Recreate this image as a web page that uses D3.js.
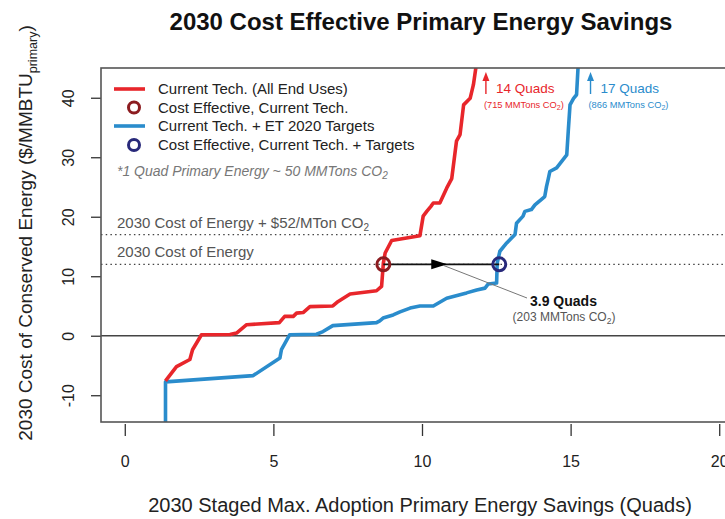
<!DOCTYPE html>
<html>
<head>
<meta charset="utf-8">
<script src="https://cdn.jsdelivr.net/npm/d3@7"></script>
<style>
  html, body { margin: 0; padding: 0; background: #fff; }
  svg { display: block; font-family: "Liberation Sans", Arial, Helvetica, sans-serif; }
</style>
</head>
<body>
<svg id="chart" width="725" height="519"></svg>
<script>
// Supply curve: cumulative savings (Quads) vs. cost of conserved energy ($/MMBTU)
const currentTechX = [1.37, 1.74, 2.19, 2.28, 2.58, 3.54, 3.76, 4.1, 5.2, 5.38, 5.67, 5.78, 6.0, 6.23, 7.0, 7.18, 7.58, 8.47, 8.64, 8.7, 8.76, 8.98, 9.93, 10.04, 10.16, 10.3, 10.38, 10.6, 10.83, 11.0, 11.16, 11.28, 11.4, 11.62, 11.73, 11.84];
const currentTechY = [-7.6, -5.2, -4.0, -2.35, 0.17, 0.2, 0.45, 1.85, 2.2, 3.25, 3.25, 3.8, 3.9, 4.9, 5.0, 5.76, 7.0, 7.56, 8.3, 12.2, 13.9, 16.0, 16.8, 20.1, 20.9, 21.75, 22.3, 22.3, 24.8, 26.4, 32.7, 33.8, 38.8, 39.9, 42.2, 46];

const targetsX = [1.37, 1.37, 4.32, 5.22, 5.27, 5.55, 6.45, 6.67, 7.0, 8.47, 8.58, 8.69, 9.03, 9.26, 9.6, 9.93, 10.38, 10.83, 11.5, 11.84, 12.12, 12.23, 12.51, 12.53, 12.62, 12.85, 13.13, 13.18, 13.4, 13.46, 13.68, 13.8, 14.13, 14.19, 14.25, 14.3, 14.53, 14.87, 14.92, 14.98, 15.1, 15.2, 15.26];
const targetsY = [-16, -7.75, -6.7, -3.75, -2.35, 0.17, 0.25, 0.7, 1.7, 2.2, 2.5, 2.97, 3.5, 4.0, 4.65, 5.0, 5.0, 6.3, 7.2, 7.7, 8.0, 8.7, 8.85, 12.2, 14.2, 15.6, 17.0, 18.9, 20.1, 20.9, 21.2, 22.0, 23.4, 25.1, 26.4, 27.6, 28.2, 30.4, 34.3, 38.8, 39.9, 40.5, 46];

const xTicks = [0, 5, 10, 15, 20];
const yTicks = [-10, 0, 10, 20, 30, 40];

const costOfEnergy = 12;          // 2030 cost of energy, $/MMBTU
const costWithCarbon = 17;        // plus $52/MTon CO2
const costEffectiveCurrent = 8.7; // Quads at cost of energy, current tech
const costEffectiveTargets = 12.6;// Quads at cost of energy, with targets
const totalCurrent = 14, totalTargets = 17;

const RED = "#e8262b", BLUE = "#2a8ccc", DARKRED = "#8c1c20", NAVY = "#28297a";

const svg = d3.select("#chart");
const plotLeft = 101, plotRight = 743, plotTop = 68, plotBottom = 422;

const x = d3.scaleLinear().domain([-0.8, 20.8]).range([plotLeft, plotRight]);
const y = d3.scaleLinear().domain([-14.5, 45]).range([plotBottom, plotTop]);

svg.append("defs").append("clipPath").attr("id", "plotClip")
  .append("rect").attr("x", plotLeft).attr("y", plotTop)
  .attr("width", plotRight - plotLeft).attr("height", plotBottom - plotTop);

// Title
svg.append("text").attr("x", 421).attr("y", 30).attr("text-anchor", "middle")
  .attr("font-size", 24).attr("font-weight", "bold").attr("fill", "#111")
  .text("2030 Cost Effective Primary Energy Savings");

// Axes
const xAxis = d3.axisBottom(x).tickValues(xTicks).tickSize(12).tickPadding(20);
const gx = svg.append("g").attr("transform", `translate(0,${plotBottom + 2})`).call(xAxis);
gx.select(".domain").remove();
gx.selectAll(".tick line").attr("stroke", "#333").attr("stroke-width", 1.3);
gx.selectAll(".tick text").attr("font-size", 16).attr("fill", "#222")
  .attr("font-family", "Liberation Sans, Arial, sans-serif");

const yAxis = d3.axisLeft(y).tickValues(yTicks).tickSize(10).tickFormat(d => String(d));
const gy = svg.append("g").attr("transform", `translate(${plotLeft},0)`).call(yAxis);
gy.select(".domain").remove();
gy.selectAll(".tick line").attr("stroke", "#333").attr("stroke-width", 1.3);
gy.selectAll(".tick text").attr("font-size", 16).attr("fill", "#222")
  .attr("font-family", "Liberation Sans, Arial, sans-serif")
  .attr("text-anchor", "middle").attr("dy", null).attr("x", null)
  .attr("transform", "translate(-33,0) rotate(-90)").attr("dominant-baseline", "central");

// Axis titles
svg.append("text").attr("x", 420).attr("y", 512).attr("text-anchor", "middle")
  .attr("font-size", 20).attr("fill", "#222")
  .text("2030 Staged Max. Adoption Primary Energy Savings (Quads)");

const yTitle = svg.append("text").attr("transform", "translate(32,233) rotate(-90)")
  .attr("text-anchor", "middle").attr("font-size", 19).attr("fill", "#222");
yTitle.append("tspan").text("2030 Cost of Conserved Energy ($/MMBTU");
yTitle.append("tspan").attr("font-size", 12.5).attr("dy", 5).text("primary");
yTitle.append("tspan").attr("dy", -5).text(")");

// Plot contents
const plot = svg.append("g").attr("clip-path", "url(#plotClip)");

// Reference cost levels
[costWithCarbon, costOfEnergy].forEach(v => {
  plot.append("line").attr("x1", plotLeft).attr("x2", plotRight)
    .attr("y1", y(v)).attr("y2", y(v))
    .attr("stroke", "#444").attr("stroke-width", 1.4).attr("stroke-dasharray", "1.5,3.2");
});
svg.append("text").attr("x", 117).attr("y", y(costWithCarbon) - 7).attr("font-size", 15).attr("fill", "#555")
  .call(t => {
    t.append("tspan").text("2030 Cost of Energy + $52/MTon CO");
    t.append("tspan").attr("font-size", 10).attr("dy", 3).text("2");
  });
svg.append("text").attr("x", 117).attr("y", y(costOfEnergy) - 7).attr("font-size", 15).attr("fill", "#555")
  .text("2030 Cost of Energy");

// Zero line
plot.append("line").attr("x1", plotLeft).attr("x2", plotRight).attr("y1", y(0)).attr("y2", y(0))
  .attr("stroke", "#444").attr("stroke-width", 1.5);

const line = d3.line().x(d => x(d[0])).y(d => y(d[1]));
const targetsData = d3.zip(targetsX, targetsY);
const currentData = d3.zip(currentTechX, currentTechY);

plot.append("path").datum(targetsData).attr("d", line).attr("fill", "none")
  .attr("stroke", BLUE).attr("stroke-width", 3.6).attr("stroke-linejoin", "round");
plot.append("path").datum(currentData).attr("d", line).attr("fill", "none")
  .attr("stroke", RED).attr("stroke-width", 3.6).attr("stroke-linejoin", "round");

// Arrow between cost-effective points
const ay = y(costOfEnergy);
plot.append("line").attr("x1", x(costEffectiveCurrent)).attr("x2", x(costEffectiveTargets))
  .attr("y1", ay).attr("y2", ay).attr("stroke", "#111").attr("stroke-width", 1.6);
const tipX = x(10.85);
plot.append("path")
  .attr("d", `M${tipX},${ay} L${tipX - 16},${ay - 5} L${tipX - 16},${ay + 5} Z`).attr("fill", "#000");

// Leader line and savings label
svg.append("line").attr("x1", tipX - 4).attr("y1", ay + 1)
  .attr("x2", 527).attr("y2", 298).attr("stroke", "#777").attr("stroke-width", 1);
svg.append("text").attr("x", 530).attr("y", 306).attr("font-size", 14).attr("font-weight", "bold")
  .attr("fill", "#111").text(`${(costEffectiveTargets - costEffectiveCurrent).toFixed(1)} Quads`);
svg.append("text").attr("x", 564).attr("y", 321).attr("text-anchor", "middle").attr("font-size", 12).attr("fill", "#555")
  .call(t => {
    t.append("tspan").text("(203 MMTons CO");
    t.append("tspan").attr("font-size", 8.5).attr("dy", 3).text("2");
    t.append("tspan").attr("dy", -3).text(")");
  });

// Cost-effective markers
[[costEffectiveCurrent, DARKRED], [costEffectiveTargets, NAVY]].forEach(([v, c]) => {
  plot.append("circle").attr("cx", x(v)).attr("cy", ay).attr("r", 6.5)
    .attr("fill", "none").attr("stroke", c).attr("stroke-width", 3);
});

// Totals at the top of each curve
function topNote(xv, color, big, small) {
  const px = x(xv);
  svg.append("line").attr("x1", px).attr("x2", px).attr("y1", 94).attr("y2", 80)
    .attr("stroke", color).attr("stroke-width", 1.4);
  svg.append("path").attr("d", `M${px},72 L${px - 3.5},81 L${px + 3.5},81 Z`).attr("fill", color);
  svg.append("text").attr("x", px + 10).attr("y", 93).attr("font-size", 13.5).attr("fill", color).text(big);
  svg.append("text").attr("x", px - 2).attr("y", 108).attr("font-size", 9.3).attr("fill", color)
    .call(t => {
      t.append("tspan").text(small);
      t.append("tspan").attr("font-size", 7).attr("dy", 2).text("2");
      t.append("tspan").attr("dy", -2).text(")");
    });
}
topNote(12.15, RED, `${totalCurrent} Quads`, "(715 MMTons CO");
topNote(15.67, BLUE, `${totalTargets} Quads`, "(866 MMTons CO");

// Legend
const legend = svg.append("g").attr("font-size", 15).attr("fill", "#222");
const legendRows = [
  { type: "line", color: RED, label: "Current Tech. (All End Uses)", y: 89 },
  { type: "circle", color: DARKRED, label: "Cost Effective, Current Tech.", y: 107.5 },
  { type: "line", color: BLUE, label: "Current Tech. + ET 2020 Targets", y: 126 },
  { type: "circle", color: NAVY, label: "Cost Effective, Current Tech. + Targets", y: 145 }
];
legendRows.forEach(r => {
  if (r.type === "line") {
    legend.append("line").attr("x1", 114).attr("x2", 145).attr("y1", r.y).attr("y2", r.y)
      .attr("stroke", r.color).attr("stroke-width", 3.6);
  } else {
    legend.append("circle").attr("cx", 134).attr("cy", r.y).attr("r", 5.5)
      .attr("fill", "none").attr("stroke", r.color).attr("stroke-width", 3);
  }
  legend.append("text").attr("x", 158).attr("y", r.y + 5.2).text(r.label);
});
legend.append("text").attr("x", 117).attr("y", 176).attr("font-size", 14).attr("font-style", "italic").attr("fill", "#777")
  .call(t => {
    t.append("tspan").text("*1 Quad Primary Energy ~ 50 MMTons CO");
    t.append("tspan").attr("font-size", 10).attr("dy", 3).text("2");
  });

// Plot frame
svg.append("rect").attr("x", plotLeft).attr("y", plotTop)
  .attr("width", plotRight - plotLeft).attr("height", plotBottom - plotTop)
  .attr("fill", "none").attr("stroke", "#555").attr("stroke-width", 1.6);
</script>
</body>
</html>
